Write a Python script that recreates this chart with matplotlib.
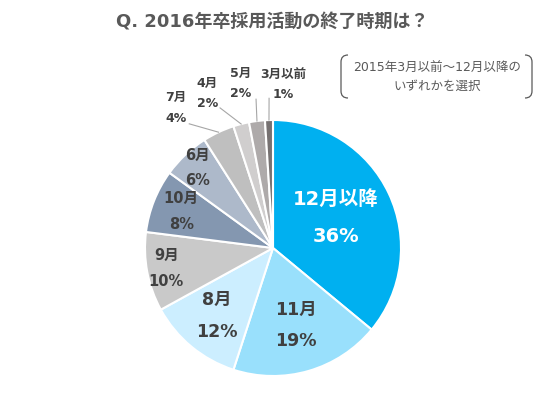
import numpy as np
import matplotlib
matplotlib.use('Agg')
import matplotlib.pyplot as plt
from matplotlib.path import Path
from matplotlib.patches import PathPatch

plt.rcParams['font.family'] = ['DejaVu Sans', 'Noto Sans CJK JP']

# data
categories = ['12月以降', '11月', '8月', '9月', '10月', '6月', '7月', '4月', '5月', '3月以前']
shares = [36, 19, 12, 10, 8, 6, 4, 2, 2, 1]
colors = ['#00B0F0', '#99E0FC', '#CCEEFF', '#C9C9C9', '#8497B0',
          '#ADB9CA', '#BFBFBF', '#D0CECE', '#AEAAAA', '#767171']
title = 'Q. 2016年卒採用活動の終了時期は？'
note = '2015年3月以前～12月以降の\nいずれかを選択'

# label style: inside labels get a radius, outer ones get angle offsets
inner_r = [0.54, 0.63, 0.69, 0.85, 0.77, 0.86]
outer_text_r = [1.33, 1.31, 1.31, 1.28]
outer_text_off = [9.5, 8.6, 3.8, -5.3]
outer_line_off = [8.8, 6.3, -0.7, -0.3]

W, H = 545, 397
fig = plt.figure(figsize=(W / 100, H / 100), dpi=100)
cx, cy, R = 273, 397 - 248, 128
ax = fig.add_axes([(cx - R) / W, (cy - R) / H, 2 * R / W, 2 * R / H])
wedges, _ = ax.pie(shares, colors=colors, startangle=90, counterclock=False,
                   radius=1, wedgeprops=dict(edgecolor='white', linewidth=1.5))
ax.set_xlim(-1, 1)
ax.set_ylim(-1, 1)
ax.set_aspect('equal')
ax.axis('off')

txt_col = '#404040'
for i, (w, cat, s) in enumerate(zip(wedges, categories, shares)):
    mid = np.deg2rad((w.theta1 + w.theta2) / 2)
    if i < len(inner_r):
        r = inner_r[i]
        if i == 0:
            ax.text(r * np.cos(mid), r * np.sin(mid) + 0.15, cat, ha='center', va='center',
                    fontsize=14, fontweight='bold', color='white')
            ax.text(r * np.cos(mid), r * np.sin(mid) - 0.14, f'{s}%', ha='center', va='center',
                    fontsize=14, fontweight='bold', color='white')
        else:
            fs = 12.5 if i < 3 else 10.5
            gap = 0.125 if i < 3 else 0.10
            ax.text(r * np.cos(mid), r * np.sin(mid) + gap, cat, ha='center', va='center',
                    fontsize=fs, fontweight='bold', color=txt_col)
            ax.text(r * np.cos(mid), r * np.sin(mid) - gap, f'{s}%', ha='center', va='center',
                    fontsize=fs, fontweight='bold', color=txt_col)
    else:
        j = i - len(inner_r)
        ta = mid + np.deg2rad(outer_text_off[j])
        la = mid + np.deg2rad(outer_line_off[j])
        rt = outer_text_r[j]
        ax.plot([np.cos(mid), 1.17 * np.cos(la)], [np.sin(mid), 1.17 * np.sin(la)],
                color='#A6A6A6', lw=0.8, clip_on=False)
        tx, ty = rt * np.cos(ta), rt * np.sin(ta)
        ax.text(tx, ty + 0.08, cat, ha='center', va='center', fontsize=9,
                fontweight='bold', color=txt_col, clip_on=False)
        ax.text(tx, ty - 0.08, f'{s}%', ha='center', va='center', fontsize=9,
                fontweight='bold', color=txt_col, clip_on=False)

fig.text(272 / W, 1 - 22 / H, title, ha='center', va='center', fontsize=13,
         fontweight='bold', color='#595959')

# note with bracket sides
fig.text(437 / W, 1 - 77 / H, note, ha='center', va='center', fontsize=9,
         color='#595959', linespacing=1.6)
x0, x1, y0, y1, k = 341 / W, 532 / W, 1 - 55 / H, 1 - 98 / H, 7
dx, dy = k / W, k / H
left = Path([(x0 + dx, y0), (x0, y0), (x0, y0 - dy), (x0, y1 + dy), (x0, y1), (x0 + dx, y1)],
            [Path.MOVETO, Path.CURVE3, Path.CURVE3, Path.LINETO, Path.CURVE3, Path.CURVE3])
right = Path([(x1 - dx, y0), (x1, y0), (x1, y0 - dy), (x1, y1 + dy), (x1, y1), (x1 - dx, y1)],
             [Path.MOVETO, Path.CURVE3, Path.CURVE3, Path.LINETO, Path.CURVE3, Path.CURVE3])
for p in (left, right):
    fig.add_artist(PathPatch(p, fill=False, edgecolor='#595959', lw=0.9,
                             transform=fig.transFigure))

fig.savefig('out.png', dpi=100, facecolor='white')
